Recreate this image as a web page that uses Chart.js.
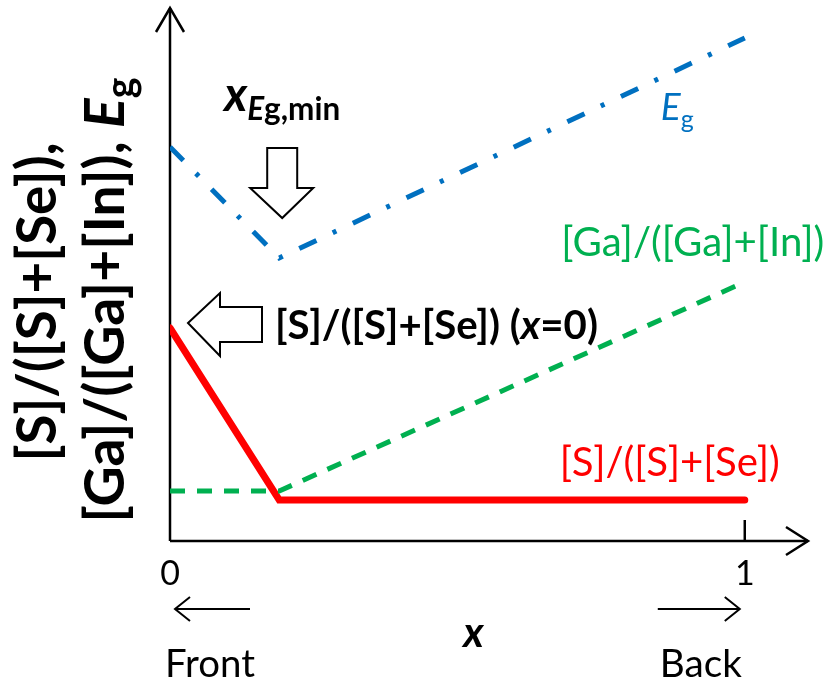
<!DOCTYPE html>
<html>
<head>
<meta charset="utf-8">
<script src="https://cdn.jsdelivr.net/npm/chart.js@4"></script>
<style>
  html, body { margin: 0; padding: 0; background: #fff; }
  #wrap { width: 831px; height: 683px; }
</style>
</head>
<body>
<div id="wrap"><canvas id="c"></canvas></div>
<script>
// 위치 x (0 = front, 1 = back) 와 각 곡선 값 (임의 단위)
const xPos = [0, 0.19, 1];
const sRatio = [2.13, 0.41, 0.41];
const gaRatio = [0.50, 0.50, 2.59];
const egVals = [3.94, 2.83, 5.03];
const xTickLabels = ['0', '1'];
const xTickValues = [0, 1];

const FONT = 'Lato, "Open Sans", sans-serif';
const BLUE = '#0070C0', GREEN = '#00B050', RED = '#FF0000';

function pts(ys) { return xPos.map((x, i) => ({ x: x, y: ys[i] })); }

function fontOf(r, k) { return (r.w || '') + ' ' + (r.s * k) + 'px ' + FONT; }

// 여러 스타일의 텍스트를 이어 그리기 (target 이 있으면 폭에 맞춤)
function runs(ctx, list, x, y, align, target) {
    const widthAt = k => list.reduce((sum, r) => { ctx.font = fontOf(r, k); return sum + ctx.measureText(r.t).width; }, 0);
    let k = 1;
    if (target) k = target / widthAt(1);
    const total = widthAt(k);
    let cx = align === 'center' ? x - total / 2 : x;
    ctx.textBaseline = 'alphabetic';
    ctx.textAlign = 'left';
    list.forEach(r => {
        ctx.font = fontOf(r, k);
        ctx.fillStyle = r.color || '#000';
        ctx.fillText(r.t, cx, y + (r.dy || 0) * k);
        cx += ctx.measureText(r.t).width;
    });
}

function chevron(ctx, tx, ty, ax, ay, bx, by) {
    ctx.beginPath();
    ctx.moveTo(ax, ay); ctx.lineTo(tx, ty); ctx.lineTo(bx, by);
    ctx.stroke();
}

const decor = {
    id: 'decor',
    beforeDatasetsDraw(chart) {
        const { ctx, scales: { x, y } } = chart;
        const x0 = x.getPixelForValue(0), y0 = y.getPixelForValue(0);
        const yTop = y.getPixelForValue(y.max), xEnd = x.getPixelForValue(x.max);
        ctx.save();
        ctx.strokeStyle = '#000';
        ctx.lineWidth = 2.5;
        ctx.beginPath();
        ctx.moveTo(x0, y0); ctx.lineTo(x0, yTop);
        ctx.moveTo(x0, y0); ctx.lineTo(xEnd, y0);
        ctx.stroke();
        chevron(ctx, x0, yTop, x0 - 14, yTop + 24, x0 + 14, yTop + 24);
        chevron(ctx, xEnd, y0, xEnd - 22, y0 - 14, xEnd - 22, y0 + 14);
        // 눈금 (x = 1)
        const x1 = x.getPixelForValue(1);
        ctx.beginPath(); ctx.moveTo(x1, y0); ctx.lineTo(x1, y0 - 21); ctx.stroke();
        ctx.restore();
    },
    afterDatasetsDraw(chart) {
        const { ctx, scales: { x, y } } = chart;
        const x0 = x.getPixelForValue(0), y0 = y.getPixelForValue(0);
        ctx.save();
        ctx.fillStyle = '#000';
        ctx.strokeStyle = '#000';

        // x 눈금 라벨
        ctx.font = '34px ' + FONT;
        ctx.textAlign = 'center';
        ctx.textBaseline = 'alphabetic';
        xTickValues.forEach((v, i) => ctx.fillText(xTickLabels[i], x.getPixelForValue(v), y0 + 44));

        // Front / Back 화살표
        const xa = x.getPixelForValue(0), xb = x.getPixelForValue(1);
        const ay = y0 + 68;
        ctx.lineWidth = 2;
        ctx.beginPath(); ctx.moveTo(xa + 5, ay); ctx.lineTo(xa + 80, ay); ctx.stroke();
        chevron(ctx, xa + 5, ay, xa + 20, ay - 12, xa + 20, ay + 12);
        ctx.beginPath(); ctx.moveTo(xb - 87, ay); ctx.lineTo(xb - 5, ay); ctx.stroke();
        chevron(ctx, xb - 5, ay, xb - 20, ay - 12, xb - 20, ay + 12);
        runs(ctx, [{ t: 'Front', s: 30 }], xa + 40, y0 + 136, 'center', 90);
        runs(ctx, [{ t: 'Back', s: 30 }], xb - 44, y0 + 136, 'center', 82);
        runs(ctx, [{ t: 'x', w: 'italic bold', s: 42 }], (xa + xb) / 2 + 16, y0 + 106, 'center');

        // y 축 제목 (회전)
        ctx.save();
        ctx.translate(42, 302);
        ctx.rotate(-Math.PI / 2);
        runs(ctx, [{ t: '[S]/([S]+[Se]),', w: 'bold', s: 38 }], 0, 14, 'center', 319);
        ctx.restore();
        ctx.save();
        ctx.translate(110, 300);
        ctx.rotate(-Math.PI / 2);
        runs(ctx, [
            { t: '[Ga]/([Ga]+[In]), ', w: 'bold', s: 38 },
            { t: 'E', w: 'italic bold', s: 38 },
            { t: 'g', w: 'bold', s: 27, dy: 7 }
        ], 0, 14, 'center', 445);
        ctx.restore();

        // x_Eg,min 라벨과 아래 방향 화살표
        const mx = x.getPixelForValue(xPos[1]);
        const my = y.getPixelForValue(egVals[1]);
        runs(ctx, [
            { t: 'x', w: 'italic bold', s: 42 },
            { t: 'E', w: 'italic bold', s: 28, dy: 8 },
            { t: 'g,min', w: 'bold', s: 28, dy: 8 }
        ], mx + 3, my - 147, 'center', 116);
        const tipY = my - 40;
        ctx.lineWidth = 2;
        ctx.fillStyle = '#fff';
        ctx.beginPath();
        ctx.moveTo(mx - 12, tipY - 70);
        ctx.lineTo(mx + 18, tipY - 70);
        ctx.lineTo(mx + 18, tipY - 30);
        ctx.lineTo(mx + 34, tipY - 30);
        ctx.lineTo(mx + 3, tipY);
        ctx.lineTo(mx - 29, tipY - 30);
        ctx.lineTo(mx - 12, tipY - 30);
        ctx.closePath();
        ctx.fill(); ctx.stroke();

        // 왼쪽 방향 화살표와 [S]/([S]+[Se]) (x=0)
        const sy = y.getPixelForValue(sRatio[0]) - 5;
        const tx = x0 + 18;
        ctx.beginPath();
        ctx.moveTo(tx, sy);
        ctx.lineTo(tx + 32, sy - 30);
        ctx.lineTo(tx + 32, sy - 16);
        ctx.lineTo(tx + 74, sy - 16);
        ctx.lineTo(tx + 74, sy + 19);
        ctx.lineTo(tx + 32, sy + 19);
        ctx.lineTo(tx + 32, sy + 33);
        ctx.closePath();
        ctx.fill(); ctx.stroke();
        runs(ctx, [
            { t: '[S]/([S]+[Se]) (', w: 'bold', s: 32 },
            { t: 'x', w: 'italic bold', s: 32 },
            { t: '=0)', w: 'bold', s: 32 }
        ], tx + 87, sy + 16, 'left', 323);

        // 곡선 라벨
        const xr = x.getPixelForValue(1);
        runs(ctx, [
            { t: 'E', w: 'italic', s: 37, color: BLUE },
            { t: 'g', s: 25, color: BLUE, dy: 8 }
        ], xr - 84, y.getPixelForValue(egVals[2]) + 82, 'left');
        runs(ctx, [{ t: '[Ga]/([Ga]+[In])', s: 32, color: GREEN }],
            xr - 52, y.getPixelForValue(gaRatio[2]) - 26, 'center', 263);
        runs(ctx, [{ t: '[S]/([S]+[Se])', s: 32, color: RED }],
            xr - 75, y.getPixelForValue(sRatio[2]) - 24, 'center', 220);
        ctx.restore();
    }
};

new Chart(document.getElementById('c'), {
    type: 'line',
    data: {
        datasets: [
            {
                label: 'Eg',
                data: pts(egVals),
                borderColor: BLUE,
                borderWidth: 5,
                borderDash: [19, 18, 4, 18.3],
                pointRadius: 0,
                tension: 0
            },
            {
                label: '[Ga]/([Ga]+[In])',
                data: pts(gaRatio),
                borderColor: GREEN,
                borderWidth: 5,
                borderDash: [15, 12],
                pointRadius: 0,
                tension: 0
            },
            {
                label: '[S]/([S]+[Se])',
                data: pts(sRatio),
                borderColor: RED,
                borderWidth: 7,
                borderCapStyle: 'round',
                borderJoinStyle: 'miter',
                pointRadius: 0,
                tension: 0
            }
        ]
    },
    options: {
        responsive: true,
        maintainAspectRatio: false,
        animation: false,
        layout: { padding: { left: 170, right: 23, top: 8, bottom: 142 } },
        plugins: { legend: { display: false }, tooltip: { enabled: false } },
        scales: {
            x: { type: 'linear', min: 0, max: 1.11, display: false },
            y: { type: 'linear', min: 0, max: 5.33, display: false }
        }
    },
    plugins: [decor]
});
</script>
</body>
</html>
